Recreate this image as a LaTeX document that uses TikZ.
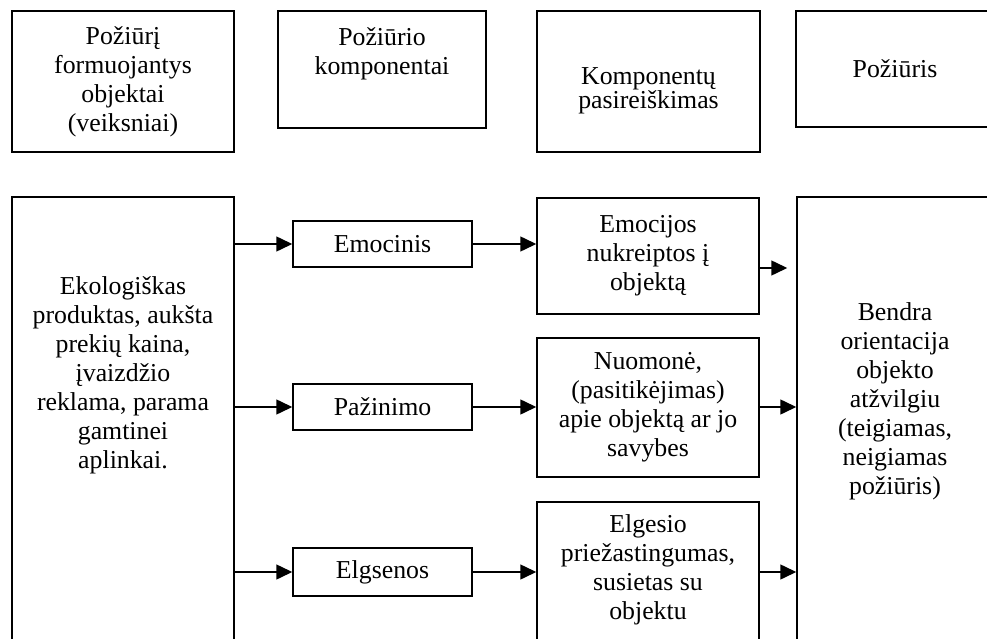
\documentclass[tikz,border=0pt]{standalone}
\usepackage{fontspec}
\setmainfont{Liberation Serif}
\usetikzlibrary{arrows.meta}
\newcommand{\bodyfont}{\fontsize{25.8pt}{29pt}\selectfont}
\newcommand{\tightfont}{\fontsize{25.8pt}{23pt}\selectfont}
\begin{document}
\begin{tikzpicture}[x=1pt,y=-1pt,
  box/.style={draw, line width=1.5pt, inner sep=0pt, align=center, font=\bodyfont},
  txt/.style={inner sep=0pt, align=center, font=\bodyfont},
  arr/.style={line width=1.5pt, -{Triangle[length=16pt,width=15pt]}}]
\useasboundingbox (0,0) rectangle (987,639);
\clip (0,0) rectangle (987,639);

% header row
\node[box, minimum width=222pt, minimum height=141pt] (h1) at (123,81.5)
  {Požiūrį\\formuojantys\\objektai\\(veiksniai)};
\node[box, minimum width=208pt, minimum height=117pt] (h2) at (382,69.5) {};
\node[txt] (h2t) at (382,53.5) {Požiūrio\\komponentai};
\node[box, minimum width=223pt, minimum height=141pt] (h3) at (648.5,81.5) {};
\node[txt, font=\tightfont] (h3t) at (648.5,91) {Komponentų\\pasireiškimas};
\node[box, minimum width=198pt, minimum height=116pt] (h4) at (895,69) {Požiūris};

% factors
\node[box, minimum width=222pt, minimum height=503pt] (left) at (123,448.5) {};
\node[txt] (leftt) at (123,375)
  {Ekologiškas\\produktas, aukšta\\prekių kaina,\\įvaizdžio\\reklama, parama\\gamtinei\\aplinkai.};

% components
\node[box, minimum width=179pt, minimum height=46pt] (emocinis) at (382.5,244) {Emocinis};
\node[box, minimum width=179pt, minimum height=46pt] (pazinimo) at (382.5,407) {Pažinimo};
\node[box, minimum width=179pt, minimum height=48pt] (elgsenos) at (382.5,572) {Elgsenos};

% manifestations
\node[box, minimum width=222pt, minimum height=116pt] (emocijos) at (648,256)
  {Emocijos\\nukreiptos į\\objektą};
\node[box, minimum width=222pt, minimum height=139pt] (nuomone) at (648,407.5)
  {Nuomonė,\\(pasitikėjimas)\\apie objektą ar jo\\savybes};
\node[box, minimum width=222pt, minimum height=148pt] (elgesio) at (648,576) {};
\node[txt] (elgesiot) at (648,570)
  {Elgesio\\priežastingumas,\\susietas su\\objektu};

% attitude
\node[box, minimum width=197pt, minimum height=503pt] (right) at (895.5,448.5) {};
\node[txt] (rightt) at (895,401)
  {Bendra\\orientacija\\objekto\\atžvilgiu\\(teigiamas,\\neigiamas\\požiūris)};

% connectors
\draw[arr] (left.east |- emocinis.west) -- (emocinis.west);
\draw[arr] (left.east |- pazinimo.west) -- (pazinimo.west);
\draw[arr] (left.east |- elgsenos.west) -- (elgsenos.west);
\draw[arr] (emocinis.east) -- (emocinis.east -| emocijos.west);
\draw[arr] (pazinimo.east) -- (pazinimo.east -| nuomone.west);
\draw[arr] (elgsenos.east) -- (elgsenos.east -| elgesio.west);
\coordinate (e1) at ([yshift=-12pt]emocijos.east);
\draw[arr, shorten >=9pt] (e1) -- (e1 -| right.west);
\draw[arr] (nuomone.east |- pazinimo.east) -- (pazinimo.east -| right.west);
\draw[arr] (elgesio.east |- elgsenos.east) -- (elgsenos.east -| right.west);
\end{tikzpicture}
\end{document}
